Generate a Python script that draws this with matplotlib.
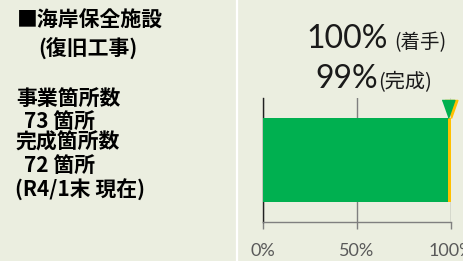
import matplotlib
matplotlib.use("Agg")
import matplotlib.pyplot as plt

# data
categories = ["海岸保全施設"]
started_pct = [1.00]      # 着手
completed_pct = [72/73]   # 完成
tick_vals = [0, 0.5, 1.0]
tick_labels = ["0%", "50%", "100%"]
left_lines = ["■海岸保全施設", "(復旧工事)", "事業箇所数", "73 箇所", "完成箇所数", "72 箇所", "(R4/1末 現在)"]
label_started = "100%"
label_completed = "99%"

W, H = 464, 261
BG = "#ebeee0"
GREEN = "#00b050"
ORANGE = "#ffc000"
CJK = ["Noto Sans CJK JP", "DejaVu Sans"]

fig = plt.figure(figsize=(W/100, H/100), dpi=100, facecolor=BG)

def fx(x): return x / W
def fy(y): return 1 - y / H

# white separator line
fig.add_artist(plt.Line2D([fx(237), fx(237)], [0, 1], color="white", lw=1.6, transform=fig.transFigure))

# left text block
left_pos = [(17, 20), (38, 48.5), (16, 98.5), (24, 121), (16, 142.5), (24, 165), (15, 190)]
for (x, y), t in zip(left_pos, left_lines):
    fig.text(fx(x), fy(y), t, family=CJK, weight="bold", fontsize=15, color="black",
             ha="left", va="center")

# axes
ax_l, ax_r, ax_t, ax_b = 263, 451, 98, 222
ax = fig.add_axes([fx(ax_l), fy(ax_b), (ax_r - ax_l) / W, (ax_b - ax_t) / H])
ax.set_facecolor(BG)
ax.set_xlim(0, 1)
ax.set_ylim(-0.5, 0.5)

ax.barh([0], started_pct, height=0.68, color=ORANGE, zorder=2)
ax.barh([0], completed_pct, height=0.68, color=GREEN, zorder=3)

tri = [(-0.85, 1.2), (0.85, 1.2), (0, -1.2)]
ax.plot(started_pct, [0.41], marker=tri, ms=13, color=ORANGE, ls="none", zorder=4, clip_on=False)
ax.plot(completed_pct, [0.41], marker=tri, ms=13, color=GREEN, ls="none", zorder=5, clip_on=False)

ax.set_xticks(tick_vals)
ax.set_xticklabels(tick_labels, family="Lato", fontsize=13, color="#595959")
ax.set_yticks([])
ax.grid(axis="x", color="#7f7f7f", lw=1.0, zorder=1)
for s in ["top", "right"]:
    ax.spines[s].set_visible(False)
ax.spines["left"].set_color("#202020")
ax.spines["left"].set_linewidth(1.0)
ax.spines["bottom"].set_color("#7f7f7f")
ax.spines["bottom"].set_linewidth(1.0)
ax.tick_params(axis="x", length=5, width=1, color="#7f7f7f", pad=10)

# header labels
fig.text(fx(306), fy(48), label_started, family="Lato", fontsize=23, color="#1a1a1a", ha="left", va="baseline")
fig.text(fx(394), fy(48), "(着手)", family=CJK, fontsize=14, color="#1a1a1a", ha="left", va="baseline")
fig.text(fx(315), fy(88), label_completed, family="Lato", fontsize=23, color="#1a1a1a", ha="left", va="baseline")
fig.text(fx(378), fy(88), "(完成)", family=CJK, fontsize=14.5, color="#1a1a1a", ha="left", va="baseline")

fig.savefig("out.png", dpi=100, facecolor=BG)
